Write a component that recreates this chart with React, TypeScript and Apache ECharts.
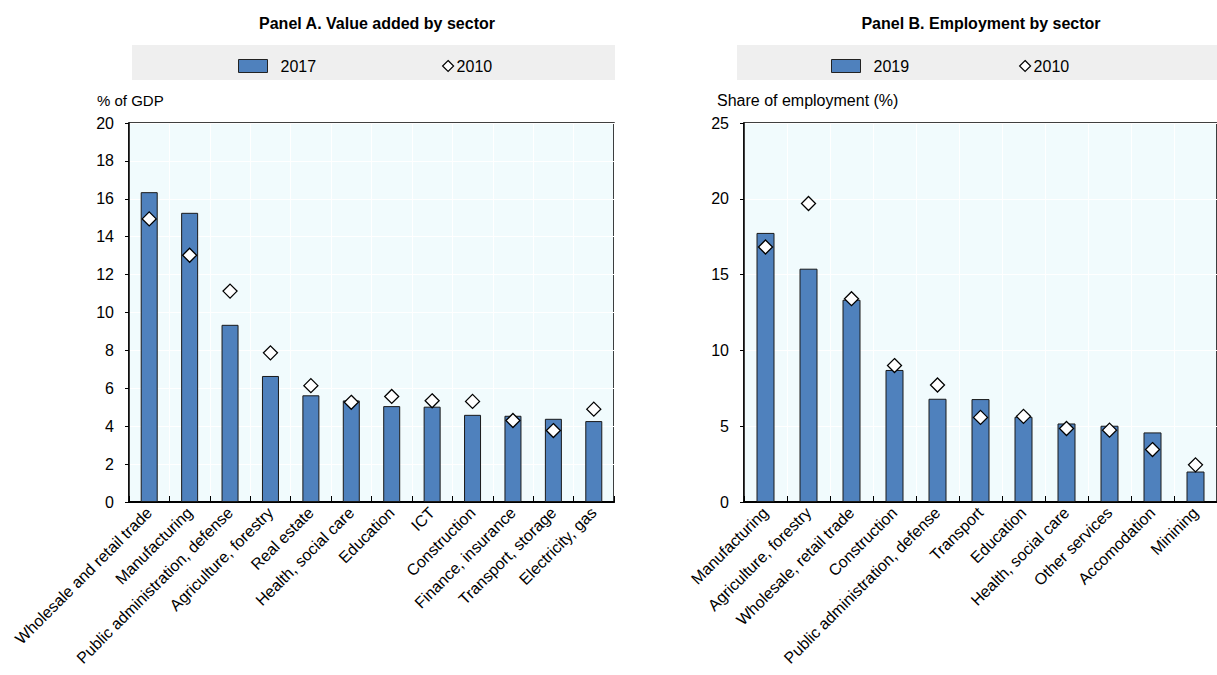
import React, { useEffect, useRef } from "react";
import * as echarts from "echarts";

const catsA = [
  "Wholesale and retail trade",
  "Manufacturing",
  "Public administration, defense",
  "Agriculture, forestry",
  "Real estate",
  "Health, social care",
  "Education",
  "ICT",
  "Construction",
  "Finance, insurance",
  "Transport, storage",
  "Electricity, gas",
];
const va2017 = [16.35, 15.26, 9.35, 6.65, 5.63, 5.36, 5.06, 5.03, 4.6, 4.55, 4.39, 4.27];
const va2010 = [14.94, 13.02, 11.13, 7.87, 6.14, 5.26, 5.57, 5.34, 5.31, 4.3, 3.77, 4.9];

const catsB = [
  "Manufacturing",
  "Agriculture, forestry",
  "Wholesale, retail trade",
  "Construction",
  "Public administration, defense",
  "Transport",
  "Education",
  "Health, social care",
  "Other services",
  "Accomodation",
  "Minining",
];
const emp2019 = [17.75, 15.39, 13.34, 8.71, 6.81, 6.79, 5.62, 5.18, 5.03, 4.59, 2.01];
const emp2010 = [16.82, 19.69, 13.41, 9.0, 7.72, 5.58, 5.65, 4.85, 4.74, 3.46, 2.45];

const FONT = "'Liberation Sans Narrow', 'Arial Narrow', 'Liberation Sans', Arial, sans-serif";
const BAR = "#4F81BD";
const PLOT_BG = "#F1FBFD";

function xAxisCfg(cats: string[], gridIndex: number) {
  return {
    type: "category",
    gridIndex,
    data: cats,
    boundaryGap: true,
    axisLine: { show: true, lineStyle: { color: "#000", width: 2 } },
    axisTick: { show: true, inside: true, length: 6, lineStyle: { color: "#000", width: 1 } },
    axisLabel: { interval: 0, rotate: 45, fontFamily: FONT, fontSize: 16, color: "#000", margin: 8 },
    splitLine: { show: true, lineStyle: { color: "#ffffff", width: 1 } },
  };
}

function yAxisCfg(max: number, interval: number, gridIndex: number) {
  return {
    type: "value",
    gridIndex,
    min: 0,
    max,
    interval,
    axisLine: { show: true, lineStyle: { color: "#000", width: 1.5 } },
    axisTick: { show: true, length: 4, lineStyle: { color: "#000" } },
    axisLabel: { fontFamily: FONT, fontSize: 16, color: "#000", margin: 15 },
    splitLine: { show: true, lineStyle: { color: "#ffffff", width: 1 } },
  };
}

function legendBox(name: string, left: number, isBar: boolean) {
  return {
    left,
    top: 53,
    itemWidth: isBar ? 29 : 11,
    itemHeight: isBar ? 13 : 11,
    selectedMode: false,
    textStyle: {
      fontFamily: FONT,
      fontSize: 16,
      color: "#000",
      padding: isBar ? [0, 0, 0, 8] : [0, 0, 0, -2],
    },
    data: [
      isBar
        ? { name, icon: "rect", itemStyle: { color: BAR, borderColor: "#222", borderWidth: 1 } }
        : { name, icon: "diamond", itemStyle: { color: "#fff", borderColor: "#000", borderWidth: 1.2 } },
    ],
  };
}

export default function App() {
  const ref = useRef<HTMLDivElement>(null);
  useEffect(() => {
    if (!ref.current) return;
    const chart = echarts.init(ref.current, null, { renderer: "svg" });
    const option: any = {
      animation: false,
      backgroundColor: "#ffffff",
      textStyle: { fontFamily: FONT },
      title: [
        {
          text: "Panel A. Value added by sector",
          left: 372,
          textAlign: "center",
          top: 10,
          textStyle: { fontFamily: FONT, fontSize: 16, fontWeight: "bold", color: "#000" },
        },
        {
          text: "Panel B. Employment by sector",
          left: 976,
          textAlign: "center",
          top: 10,
          textStyle: { fontFamily: FONT, fontSize: 16, fontWeight: "bold", color: "#000" },
        },
      ],
      graphic: [
        { type: "rect", z: 0, shape: { x: 132, y: 45, width: 483, height: 35 }, style: { fill: "#EFEFEF" } },
        { type: "rect", z: 0, shape: { x: 737, y: 45, width: 480, height: 35 }, style: { fill: "#EFEFEF" } },
        { type: "text", x: 97, y: 93, style: { text: "% of GDP", font: `15px ${FONT}`, fill: "#000" } },
        { type: "text", x: 717, y: 92, style: { text: "Share of employment (%)", font: `16px ${FONT}`, fill: "#000" } },
      ],
      legend: [
        legendBox("2017", 233, true),
        legendBox("2010 ", 437, false),
        legendBox("2019", 826, true),
        legendBox("2010", 1014, false),
      ],
      grid: [
        { left: 129, top: 123, width: 485, height: 379, show: true, backgroundColor: PLOT_BG, borderColor: "#000", borderWidth: 1.5 },
        { left: 744, top: 123, width: 473, height: 379, show: true, backgroundColor: PLOT_BG, borderColor: "#000", borderWidth: 1.5 },
      ],
      xAxis: [xAxisCfg(catsA, 0), xAxisCfg(catsB, 1)],
      yAxis: [yAxisCfg(20, 2, 0), yAxisCfg(25, 5, 1)],
      series: [
        {
          name: "2017",
          type: "bar",
          xAxisIndex: 0,
          yAxisIndex: 0,
          data: va2017,
          barWidth: 17,
          itemStyle: { color: BAR, borderColor: "#1a1a1a", borderWidth: 1 },
        },
        {
          name: "2010 ",
          type: "scatter",
          xAxisIndex: 0,
          yAxisIndex: 0,
          data: va2010,
          symbol: "diamond",
          symbolSize: 14,
          itemStyle: { color: "#fff", borderColor: "#000", borderWidth: 1.3, opacity: 1 },
          z: 5,
        },
        {
          name: "2019",
          type: "bar",
          xAxisIndex: 1,
          yAxisIndex: 1,
          data: emp2019,
          barWidth: 18,
          itemStyle: { color: BAR, borderColor: "#1a1a1a", borderWidth: 1 },
        },
        {
          name: "2010",
          type: "scatter",
          xAxisIndex: 1,
          yAxisIndex: 1,
          data: emp2010,
          symbol: "diamond",
          symbolSize: 14,
          itemStyle: { color: "#fff", borderColor: "#000", borderWidth: 1.3, opacity: 1 },
          z: 5,
        },
      ],
    };
    chart.setOption(option);
    return () => chart.dispose();
  }, []);
  return <div ref={ref} style={{ width: 1217, height: 675, position: "absolute", left: 0, top: 0 }} />;
}
